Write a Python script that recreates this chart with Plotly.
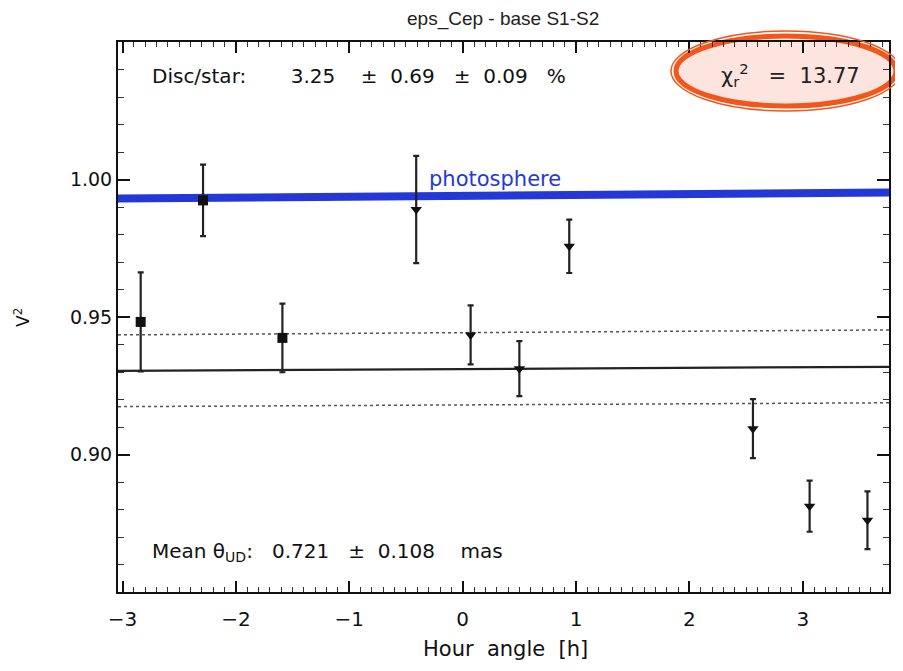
import plotly.graph_objects as go

# ---- data ----
hour_angle = [-2.84, -2.29, -1.59, -0.41, 0.07, 0.50, 0.94, 2.56, 3.06, 3.57]
v2 = [0.9482, 0.9924, 0.9424, 0.9891, 0.9435, 0.9312, 0.9757, 0.9094, 0.8812, 0.8761]
v2_err = [0.018, 0.013, 0.0125, 0.0195, 0.0107, 0.010, 0.0097, 0.0107, 0.0093, 0.0105]
marker_symbols = ["square", "square", "square", "triangle-down", "triangle-down",
                  "triangle-down", "triangle-down", "triangle-down", "triangle-down", "triangle-down"]

line_x = [-3.04, 3.76]
photosphere_y = [0.9931, 0.9953]
model_y = [0.9304, 0.9319]
upper_dotted_y = [0.9435, 0.9453]
lower_dotted_y = [0.9174, 0.9188]

x_range = [-3.04, 3.76]
y_range = [0.85, 1.05]
x_ticks = [-3, -2, -1, 0, 1, 2, 3]
x_tick_labels = ["−3", "−2", "−1", "0", "1", "2", "3"]
y_ticks = [0.90, 0.95, 1.00]
y_tick_labels = ["0.90", "0.95", "1.00"]

NB = "\u00a0"
title_text = "eps_Cep - base S1-S2"
disc_text = (f"Disc/star:{NB*7}3.25{NB*4}±{NB*2}0.69{NB*3}±{NB*2}0.09{NB*3}%")
chi_text = f"χ<sub>r</sub><sup>2</sup>{NB*3}={NB*2}13.77"
mean_text = f"Mean{NB}θ<sub>UD</sub>:{NB*3}0.721{NB*3}±{NB*2}0.108{NB*4}mas"
xlabel_text = f"Hour{NB*2}angle{NB*2}[h]"

FONT = "DejaVu Sans, sans-serif"
TFONT = "Liberation Sans, DejaVu Sans, sans-serif"

# the page body offsets the figure by 8 px; work in screen pixels
OX, OY = 8, 8
W, H = 903 - OX, 671 - OY
L, R, T, B = 118, 889, 42, 592   # plot frame in screen px


def px(xp):
    return (xp - L) / (R - L)


def py(yp):
    return (B - yp) / (B - T)


fig = go.Figure()

fig.add_trace(go.Scatter(x=line_x, y=photosphere_y, mode="lines",
                         line=dict(color="#2438d8", width=8), hoverinfo="skip"))
fig.add_trace(go.Scatter(x=line_x, y=upper_dotted_y, mode="lines",
                         line=dict(color="#555555", width=1.5, dash="dot"), hoverinfo="skip"))
fig.add_trace(go.Scatter(x=line_x, y=lower_dotted_y, mode="lines",
                         line=dict(color="#555555", width=1.5, dash="dot"), hoverinfo="skip"))
fig.add_trace(go.Scatter(x=line_x, y=model_y, mode="lines",
                         line=dict(color="#222222", width=2.2), hoverinfo="skip"))
fig.add_trace(go.Scatter(
    x=hour_angle, y=v2, mode="markers",
    marker=dict(symbol=marker_symbols, size=10, color="#111111"),
    error_y=dict(type="data", array=v2_err, color="#222222", thickness=2.2, width=3),
))

shapes = [
    dict(type="circle", xref="paper", yref="paper", layer="below",
         x0=px(676), x1=px(896), y0=py(106), y1=py(36),
         fillcolor="#fde4de", line=dict(color="#f2561a", width=5)),
    dict(type="circle", xref="paper", yref="paper", layer="above",
         x0=px(671), x1=px(901), y0=py(111), y1=py(31),
         line=dict(color="#f2561a", width=1.5)),
]


def ann(text, x, y, size, color="#111111", xanchor="center", family=FONT, angle=0):
    return dict(text=text, x=px(x), y=py(y), xref="paper", yref="paper",
                xanchor=xanchor, yanchor="middle", textangle=angle, showarrow=False,
                font=dict(family=family, size=size, color=color))


annotations = [
    ann(title_text, 503, 19, 19, "#222222", family=TFONT),
    ann(disc_text, 150, 76, 20, xanchor="left"),
    ann(chi_text, 862, 75, 21, "#222222", xanchor="right"),
    ann(mean_text, 150, 552, 20, xanchor="left"),
    ann("photosphere", 427, 179, 21, "#2438d8", xanchor="left"),
    ann("V<sup>2</sup>", 22, 318, 17, angle=-90),
    ann(xlabel_text, 505, 649, 21),
]

fig.update_layout(
    width=W, height=H,
    margin=dict(l=L - OX, r=W - (R - OX), t=T - OY, b=H - (B - OY), autoexpand=False),
    paper_bgcolor="white", plot_bgcolor="rgba(0,0,0,0)",
    showlegend=False,
    shapes=shapes, annotations=annotations,
    font=dict(family=FONT, size=17, color="#111111"),
)
fig.update_xaxes(
    range=x_range, tickvals=x_ticks, ticktext=x_tick_labels,
    showgrid=False, zeroline=False,
    showline=True, linecolor="#111111", linewidth=2, mirror="allticks",
    ticks="inside", ticklen=11, tickwidth=1.5, tickcolor="#111111",
    minor=dict(dtick=0.1, ticks="inside", ticklen=5, tickwidth=1.2, tickcolor="#333333"),
    tickfont=dict(family=FONT, size=20), ticklabelstandoff=8,
)
fig.update_yaxes(
    range=y_range, tickvals=y_ticks, ticktext=y_tick_labels,
    showgrid=False, zeroline=False,
    showline=True, linecolor="#111111", linewidth=2, mirror="allticks",
    ticks="inside", ticklen=12, tickwidth=1.5, tickcolor="#111111",
    minor=dict(dtick=0.01, ticks="inside", ticklen=6, tickwidth=1.2, tickcolor="#333333"),
    tickfont=dict(family=FONT, size=19),
)

fig.write_html("out.html")
